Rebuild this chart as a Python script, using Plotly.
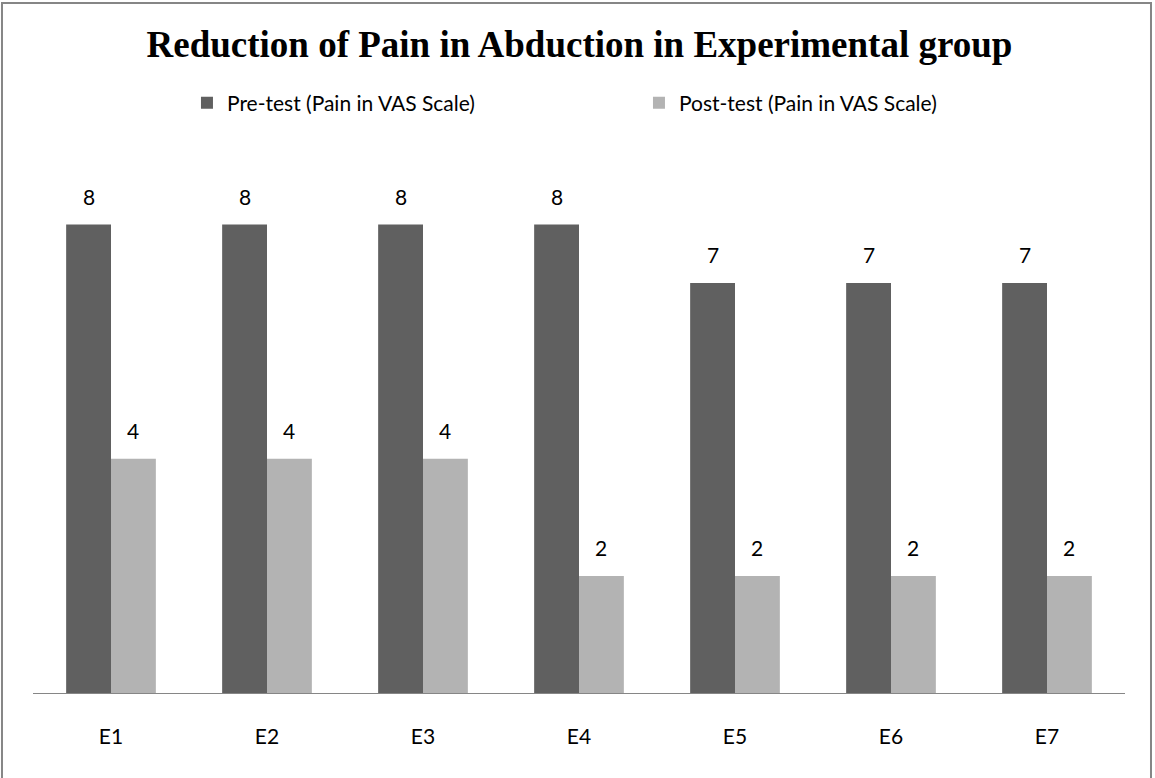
import plotly.graph_objects as go

# chart data
subjects = ["E1", "E2", "E3", "E4", "E5", "E6", "E7"]
pre_test = [8, 8, 8, 8, 7, 7, 7]
post_test = [4, 4, 4, 2, 2, 2, 2]
series_names = ["Pre-test (Pain in VAS Scale)", "Post-test (Pain in VAS Scale)"]

PRE_COLOR = "#606060"
POST_COLOR = "#b3b3b3"
TEXT_FONT = "Lato, 'Open Sans', sans-serif"

BAR_GAP = 0.425
bar_w = (1 - BAR_GAP) / 2

fig = go.Figure()
fig.add_trace(go.Bar(x=subjects, y=pre_test, name=series_names[0],
                     marker=dict(color=PRE_COLOR, line=dict(width=0))))
fig.add_trace(go.Bar(x=subjects, y=post_test, name=series_names[1],
                     marker=dict(color=POST_COLOR, line=dict(width=0))))

# value labels above each bar
annotations = []
for i, subj in enumerate(subjects):
    for val, off in ((pre_test[i], -bar_w / 2), (post_test[i], bar_w / 2)):
        annotations.append(dict(
            x=i + off, y=val, xref="x", yref="y", text=str(val),
            showarrow=False, yanchor="bottom", yshift=14,
            font=dict(family=TEXT_FONT, size=21, color="#000000")))

fig.update_layout(
    width=1155, height=778,
    margin=dict(l=33, r=30, t=166, b=85),
    paper_bgcolor="white", plot_bgcolor="white",
    barmode="group", bargap=BAR_GAP, bargroupgap=0,
    title=dict(text="<b>Reduction of Pain in Abduction in Experimental group</b>",
               x=0.5017, xanchor="center", y=0.9435, yanchor="middle",
               font=dict(family="'Liberation Serif', 'Times New Roman', serif",
                         size=37, color="#000000")),
    legend=dict(orientation="h", x=0.141, xanchor="left", y=1.1195, yanchor="middle",
                entrywidth=407, entrywidthmode="pixels",
                font=dict(family=TEXT_FONT, size=21, color="#000000"),
                itemclick=False, traceorder="normal"),
    annotations=annotations,
    showlegend=True,
)

fig.update_xaxes(showline=True, linecolor="#868686", linewidth=1,
                 ticks="", showgrid=False, ticklabelstandoff=25,
                 tickfont=dict(family=TEXT_FONT, size=21, color="#000000"))
fig.update_yaxes(range=[0, 9], visible=False, showgrid=False)

# outer chart border (bottom edge runs just past the window)
fig.add_shape(type="rect", xref="paper", yref="paper",
              x0=-0.0284, x1=1.0238, y0=-0.17, y1=1.3093,
              line=dict(color="#868686", width=2), fillcolor="rgba(0,0,0,0)")

# drop the page's default body margin so the chart sits at the window corner
fig.write_html("out.html", config={"displayModeBar": False},
               post_script="document.body.style.margin='0';")
